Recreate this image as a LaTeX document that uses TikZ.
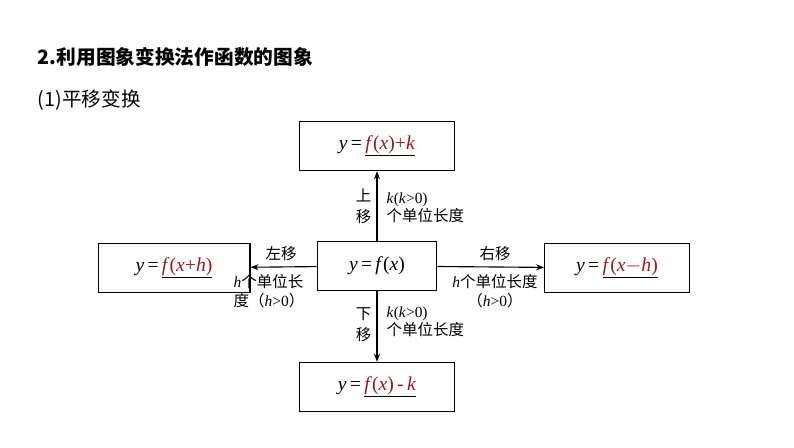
\documentclass[tikz,border=0pt]{standalone}
\usepackage{fontspec}
\setmainfont{Liberation Serif}
\newfontfamily\cjk{Noto Sans CJK SC}
\usepackage{xcolor}
\usetikzlibrary{positioning,arrows.meta}
\definecolor{ansred}{RGB}{160,20,30}
\newcommand{\ans}[1]{\underline{\textcolor{ansred}{#1}}}
\newcommand{\mi}[1]{\textit{#1}}

\begin{document}
\begin{tikzpicture}[
    x=0.025cm, y=-0.025cm,
    fbox/.style={draw, thick, inner sep=0pt, font=\fontsize{14}{16}\selectfont},
    tag/.style={font=\fontsize{11}{13}\selectfont, inner sep=1pt, align=left},
    moveto/.style={-{Stealth[length=2mm]}, thick}
]
\useasboundingbox (0,0) rectangle (794,447);

% headings
\node[anchor=west, font=\cjk\bfseries\fontsize{14}{16}\selectfont] (title) at (33,57) {2.利用图象变换法作函数的图象};
\node[anchor=west, font=\cjk\fontsize{14}{16}\selectfont] (sub) at (33,100) {(1)平移变换};

% function boxes
\node[fbox, minimum width=85, minimum height=35] (mid) at (377,266) {\mi{y}\,=\,\mi{f}(\mi{x})};
\node[fbox, minimum width=110, minimum height=35] (up) at (377,146) {\mi{y}\,=\,\ans{\mi{f}(\mi{x})+\mi{k}}};
\node[fbox, minimum width=110, minimum height=35] (down) at (377,387) {\mi{y}\,=\,\ans{\mi{f}(\mi{x})\,-\,\mi{k}}};
\node[fbox, minimum width=108, minimum height=35] (left) at (174,268) {\mi{y}\,=\,\ans{\mi{f}(\mi{x}+\mi{h})}};
\node[fbox, minimum width=103, minimum height=35] (right) at (617,268) {\mi{y}\,=\,\ans{\mi{f}(\mi{x}$-$\mi{h})}};

% arrows
\draw[moveto] (mid) -- (up);
\draw[moveto] (mid) -- (down);
\draw[moveto] (mid) -- (left);
\draw[moveto] (mid) -- (right);

% labels
\node[tag, font=\cjk\fontsize{11}{15}\selectfont, anchor=east] (upl) at (373,206) {上\\移};
\node[tag, anchor=west] (upr) at (385,208) {\mi{k}(\mi{k}>0)\\{\cjk 个单位长度}};
\node[tag, font=\cjk\fontsize{11}{15}\selectfont, anchor=east] (dnl) at (373,325) {下\\移};
\node[tag, anchor=west] (dnr) at (385,322) {\mi{k}(\mi{k}>0)\\{\cjk 个单位长度}};
\node[tag, font=\cjk\fontsize{11}{13}\selectfont] (lft) at (281,254) {左移};
\node[tag, anchor=north west] (lfb) at (232,273) {\mi{h}{\cjk 个单位长}\\{\cjk 度（}\mi{h}>0{\cjk ）}};
\node[tag, font=\cjk\fontsize{11}{13}\selectfont] (rgt) at (495,254) {右移};
\node[tag, align=center, anchor=north] (rgb) at (495,273) {\mi{h}{\cjk 个单位长度}\\{\cjk （}\mi{h}>0{\cjk ）}};
\end{tikzpicture}
\end{document}
